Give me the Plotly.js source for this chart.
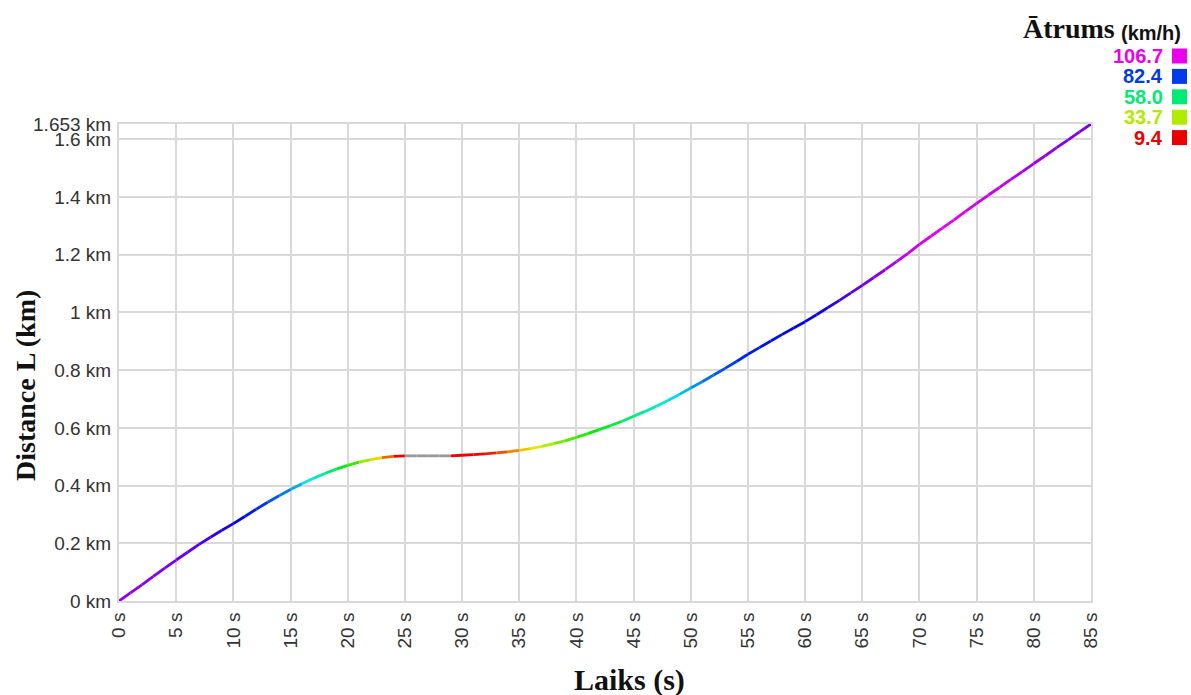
<!DOCTYPE html>
<html>
<head>
<meta charset="utf-8">
<script src="https://cdn.plot.ly/plotly-3.0.1.min.js"></script>
<style>
  html, body { margin: 0; padding: 0; background: #ffffff; }
  #chart { width: 1191px; height: 695px; }
</style>
</head>
<body>
<div id="chart"></div>
<script>
// ---- data ----
const timeS = [0,1,2,3,4,5,6,7,8,9,10,11,12,13,14,15,16,17,18,19,20,21,22,23,24,25,26,27,28,29,30,31,32,33,34,35,36,37,38,39,40,41,42,43,44,45,46,47,48,49,50,51,52,53,54,55,56,57,58,59,60,61,62,63,64,65,66,67,68,69,70,71,72,73,74,75,76,77,78,79,80,81,82,83,84,85];
const distanceKm = [0.000,0.028,0.056,0.085,0.114,0.142,0.169,0.196,0.221,0.245,0.268,0.293,0.318,0.342,0.365,0.386,0.406,0.425,0.442,0.457,0.470,0.481,0.490,0.497,0.501,0.503,0.503,0.503,0.503,0.503,0.505,0.507,0.510,0.513,0.517,0.522,0.528,0.536,0.545,0.555,0.567,0.580,0.594,0.608,0.623,0.640,0.657,0.675,0.695,0.716,0.738,0.760,0.783,0.806,0.830,0.855,0.878,0.901,0.924,0.946,0.968,0.992,1.017,1.042,1.068,1.094,1.121,1.148,1.176,1.205,1.236,1.264,1.292,1.320,1.349,1.378,1.406,1.433,1.461,1.488,1.516,1.543,1.571,1.598,1.626,1.653];
// speed (km/h) on each one-second interval [t, t+1]
const speedKmh = [99,99,98,98,97,96,95,93,91,89,87,85,83,80,77,73,68,63,57,51,44,36,27,18,10,0,0,0,0,9,9,10,12,16,21,26,30,34,38,42,45,48,51,54,57,60,63,66,69,72,75,78,80,82,84,85,86,86,87,87,88,89,91,93,95,97,99,101,103,104,105,106,106.7,106,105,104,104,103,102,101,100,99,98,98,97];

const legendValues = [106.7, 82.4, 58.0, 33.7, 9.4];
const legendTitle = "Ātrums";
const legendUnit = "(km/h)";

const xTickVals = [0,5,10,15,20,25,30,35,40,45,50,55,60,65,70,75,80,85];
const xTickText = ["0 s","5 s","10 s","15 s","20 s","25 s","30 s","35 s","40 s","45 s","50 s","55 s","60 s","65 s","70 s","75 s","80 s","85 s"];
const yTickVals = [0,0.2,0.4,0.6,0.8,1.0,1.2,1.4,1.6,1.653];
const yTickText = ["0 km","0.2 km","0.4 km","0.6 km","0.8 km","1 km","1.2 km","1.4 km","1.6 km","1.653 km"];

const xTitle = "Laiks (s)";
const yTitle = "Distance L (km)";

// ---- colour scale: hue from red (min) to magenta (max), grey when stopped ----
const vMin = legendValues[legendValues.length - 1];
const vMax = legendValues[0];
function speedColor(v) {
  if (v <= 0) return "#999999";
  let h = (v - vMin) / (vMax - vMin) * 300;
  h = Math.max(0, Math.min(300, h));
  return "hsl(" + h.toFixed(1) + ",100%,46%)";
}

// ---- traces: one short line per interval, coloured by speed ----
const traces = [];
for (let i = 0; i < timeS.length - 1; i++) {
  traces.push({
    type: "scatter",
    mode: "lines",
    x: [timeS[i], timeS[i + 1]],
    y: [distanceKm[i], distanceKm[i + 1]],
    line: { color: speedColor(speedKmh[i]), width: 2.8 },
    hoverinfo: "skip",
    showlegend: false
  });
}

// ---- layout ----
const W = 1191, H = 695;
const M = { l: 119, r: 100, t: 124, b: 94 };
const pw = W - M.l - M.r, ph = H - M.t - M.b;
const px = x => (x - M.l) / pw;          // pixel -> paper x
const py = y => (H - M.b - y) / ph;      // pixel -> paper y

const gridCol = "#d9d9d9";
const tickFont = { family: "Liberation Sans, Arial, sans-serif", size: 19, color: "#333333" };

const annotations = [
  { xref: "paper", yref: "paper", x: px(25), y: py(386), text: "<b>" + yTitle + "</b>", textangle: -90,
    showarrow: false, xanchor: "center", yanchor: "middle",
    font: { family: "Liberation Serif, Times New Roman, serif", size: 28, color: "#111111" } },
  { xref: "paper", yref: "paper", x: px(629), y: py(680), text: "<b>" + xTitle + "</b>",
    showarrow: false, xanchor: "center", yanchor: "middle",
    font: { family: "Liberation Serif, Times New Roman, serif", size: 30, color: "#111111" } },
  { xref: "paper", yref: "paper", x: px(1117), y: py(29), text: "<b>" + legendTitle + "</b>",
    showarrow: false, xanchor: "right", yanchor: "middle",
    font: { family: "Liberation Serif, Times New Roman, serif", size: 28, color: "#111111" } },
  { xref: "paper", yref: "paper", x: px(1119), y: py(33), text: "<b>" + legendUnit + "</b>",
    showarrow: false, xanchor: "left", yanchor: "middle",
    font: { family: "Liberation Sans, Arial, sans-serif", size: 20, color: "#111111" } }
];
const shapes = [];
const rowTop = 56, rowGap = 20.4, sq = 15;
legendValues.forEach((v, k) => {
  const cy = rowTop + k * rowGap;
  const col = speedColor(v);
  annotations.push({
    xref: "paper", yref: "paper", x: px(1165), y: py(cy), text: "<b>" + v.toFixed(1) + "</b>",
    showarrow: false, xanchor: "right", yanchor: "middle",
    font: { family: "Liberation Sans, Arial, sans-serif", size: 20, color: col }
  });
  shapes.push({
    type: "rect", xref: "paper", yref: "paper",
    x0: px(1172), x1: px(1172 + sq), y0: py(cy + sq / 2), y1: py(cy - sq / 2),
    fillcolor: col, line: { width: 0 }
  });
});

const layout = {
  width: W, height: H,
  margin: M,
  paper_bgcolor: "#ffffff", plot_bgcolor: "#ffffff",
  showlegend: false,
  xaxis: {
    range: [0, 85], tickvals: xTickVals, ticktext: xTickText, tickangle: -90,
    showgrid: true, gridcolor: gridCol, gridwidth: 2,
    zeroline: false, showline: true, mirror: true, linecolor: gridCol, linewidth: 2,
    ticks: "outside", ticklen: 2, tickcolor: "rgba(0,0,0,0)",
    tickfont: tickFont, fixedrange: true
  },
  yaxis: {
    range: [0, 1.653], tickvals: yTickVals, ticktext: yTickText,
    showgrid: true, gridcolor: gridCol, gridwidth: 2,
    zeroline: false, showline: true, mirror: true, linecolor: gridCol, linewidth: 2,
    ticks: "outside", ticklen: 2, tickcolor: "rgba(0,0,0,0)",
    tickfont: tickFont, fixedrange: true
  },
  annotations: annotations,
  shapes: shapes
};

Plotly.newPlot("chart", traces, layout, { displayModeBar: false, staticPlot: true });
</script>
</body>
</html>
